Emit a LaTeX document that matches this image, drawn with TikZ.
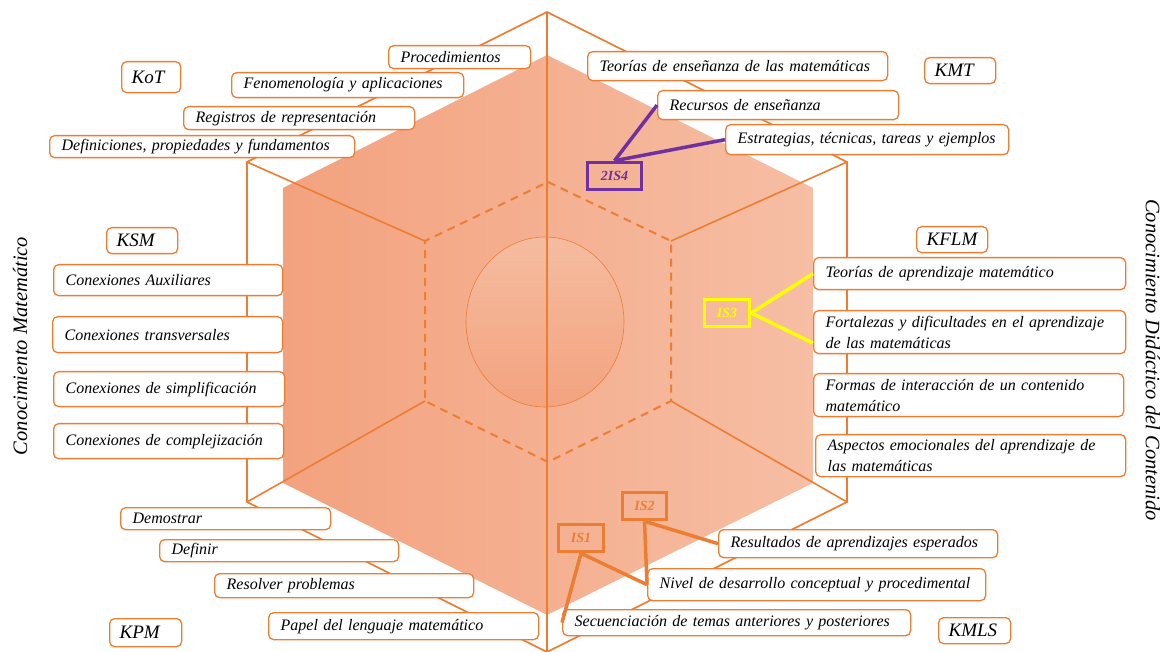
\documentclass[tikz,border=0pt]{standalone}
\usepackage{fontspec}
\setmainfont{Liberation Serif}
\definecolor{orC}{HTML}{ED7D31}
\definecolor{fillL}{HTML}{F3A27E}
\definecolor{fillR}{HTML}{F6BEA4}
\definecolor{ellT}{HTML}{F5BCA0}
\definecolor{ellB}{HTML}{F3A37F}
\definecolor{purC}{HTML}{7030A0}
\definecolor{yelC}{HTML}{FFFF00}
\newcommand\mkbox[8]{%
 \pgfmathsetmacro\mkbw{#6-#4-2*#2}%
 \pgfmathsetmacro\mkbh{#7-#5}%
 \node[#1,inner xsep=#2pt,text width=\mkbw pt,minimum height=\mkbh pt,anchor=north west] (#3) at (#4,#5) {#8};}
\begin{document}
\begin{tikzpicture}[x=1pt,y=-1pt,
 hexline/.style={draw=orC,line width=1.6pt},
 dashline/.style={draw=orC,line width=2pt,dash pattern=on 8pt off 6pt},
 txtbox/.style={draw=orC,line width=1.3pt,rounded corners=5pt,fill=white,font=\itshape\fontsize{16}{21}\selectfont,inner ysep=1pt,align=left},
 lblbox/.style={txtbox,font=\itshape\fontsize{19}{22}\selectfont},
 isbox/.style={line width=3.5pt,font=\bfseries\itshape\fontsize{14}{16}\selectfont,inner sep=0pt},
 islink/.style={line width=3.5pt},
 sidelbl/.style={font=\itshape\fontsize{20.5}{24}\selectfont,inner sep=0pt}]
\useasboundingbox (0,0) rectangle (1163,652);
\fill[white] (0,0) rectangle (1163,652);
% filled hexagon
\shade[left color=fillL,right color=fillR] (283,188) -- (547,55) -- (813,188) -- (813,483) -- (547,615) -- (283,483) -- cycle;
% inner ellipse
\shade[top color=ellT,bottom color=ellB] (545,322) ellipse [x radius=79pt,y radius=85pt];
\draw[orC,line width=0.6pt] (545,322) ellipse [x radius=79pt,y radius=85pt];
% dashed hexagon
\draw[dashline] (548,182) -- (671,241) -- (671,401) -- (548,462) -- (425,401) -- (425,241) -- cycle;
% outer hexagon and spokes
\coordinate (oT) at (547,12);
\coordinate (oUR) at (847,162);
\coordinate (oLR) at (847,502);
\coordinate (oB) at (547,652);
\coordinate (oLL) at (247,502);
\coordinate (oUL) at (247,162);
\draw[hexline] (oT) -- (oUR) -- (oLR) -- (oB) -- (oLL) -- (oUL) -- cycle;
\draw[hexline] (oT) -- (oB);
\draw[hexline] (oUL) -- (425,241);
\draw[hexline] (oLL) -- (425,401);
\draw[hexline] (oUR) -- (671,241);
\draw[hexline] (oLR) -- (671,401);
% side labels
\node[sidelbl,rotate=90] (lblL) at (20,346) {Conocimiento Matemático};
\node[sidelbl,rotate=-90] (lblR) at (1153,360) {Conocimiento Didáctico del Contenido};
% KoT group
\mkbox{txtbox}{12}{proc}{388}{45}{530}{68}{Procedimientos}
\mkbox{txtbox}{12}{fen}{231}{72}{463}{97}{Fenomenología y aplicaciones}
\mkbox{txtbox}{12}{reg}{183}{106}{414}{129}{Registros de representación}
\mkbox{txtbox}{12}{defs}{49}{135}{354}{157}{Definiciones, propiedades y fundamentos}
\mkbox{lblbox}{10}{kot}{121}{61}{180}{92}{KoT}
% KSM group
\mkbox{lblbox}{10}{ksm}{106}{227}{177}{253}{KSM}
\mkbox{txtbox}{12}{aux}{53}{264}{282}{295}{Conexiones Auxiliares}
\mkbox{txtbox}{12}{trans}{52}{316}{282}{352}{Conexiones transversales}
\mkbox{txtbox}{12}{simp}{53}{371}{284}{406}{Conexiones de simplificación}
\mkbox{txtbox}{12}{comp}{53}{423}{283}{458}{Conexiones de complejización}
% KPM group
\mkbox{txtbox}{12}{dem}{120}{507}{330}{529}{Demostrar}
\mkbox{txtbox}{12}{defi}{159}{539}{398}{561}{Definir}
\mkbox{txtbox}{12}{resp}{214}{573}{473}{597}{Resolver problemas}
\mkbox{txtbox}{12}{pap}{268}{612}{538}{639}{Papel del lenguaje matemático}
\mkbox{lblbox}{10}{kpm}{109}{618}{181}{646}{KPM}
% KMT group
\mkbox{txtbox}{12}{ten}{587}{51}{887}{80}{Teorías de enseñanza de las matemáticas}
\mkbox{txtbox}{12}{rec}{657}{90}{898}{119}{Recursos de enseñanza}
\mkbox{txtbox}{12}{est}{725}{124}{1008}{154}{Estrategias, técnicas, tareas y ejemplos}
\mkbox{lblbox}{10}{kmt}{924}{57}{995}{83}{KMT}
% KFLM group
\mkbox{lblbox}{10}{kflm}{916}{226}{987}{252}{KFLM}
\mkbox{txtbox}{12}{tap}{813}{257}{1125}{289}{Teorías de aprendizaje matemático}
\mkbox{txtbox}{12}{fort}{813}{310}{1125}{353}{Fortalezas y dificultades en el aprendizaje\\de las matemáticas}
\mkbox{txtbox}{12}{form}{813}{373}{1123}{416}{Formas de interacción de un contenido\\matemático}
\mkbox{txtbox}{12}{asp}{815}{434}{1125}{476}{Aspectos emocionales del aprendizaje de\\las matemáticas}
% KMLS group
\mkbox{txtbox}{12}{resu}{718}{529}{997}{557}{Resultados de aprendizajes esperados}
\mkbox{txtbox}{12}{niv}{647}{568}{985}{600}{Nivel de desarrollo conceptual y procedimental}
\mkbox{txtbox}{12}{sec}{562}{609}{910}{635}{Secuenciación de temas anteriores y posteriores}
\mkbox{lblbox}{10}{kmls}{938}{617}{1010}{643}{KMLS}
% IS boxes
\node[isbox,draw=purC,text=purC,minimum width=54pt,minimum height=27pt] (is4) at (614.5,176) {2IS4};
\node[isbox,draw=yelC,text=yelC,minimum width=45pt,minimum height=27pt] (is3) at (727,313) {IS3};
\node[isbox,draw=orC,text=orC,minimum width=44pt,minimum height=27pt] (is2) at (644.5,506) {IS2};
\node[isbox,draw=orC,text=orC,minimum width=45pt,minimum height=27pt] (is1) at (581,538) {IS1};
% IS links
\draw[islink,purC] (is4.north) -- (rec.west);
\draw[islink,purC] (is4.north) -- (est.west);
\draw[islink,yelC] (is3.east) -- (tap.west);
\draw[islink,yelC] (is3.east) -- ([yshift=-11pt]fort.west);
\draw[islink,orC] (is2.south) -- (resu.west);
\draw[islink,orC] (is2.south) -- (niv.west);
\draw[islink,orC] (is1.south) -- (sec.west);
\draw[islink,orC] (is1.south) -- (niv.west);
\end{tikzpicture}
\end{document}
